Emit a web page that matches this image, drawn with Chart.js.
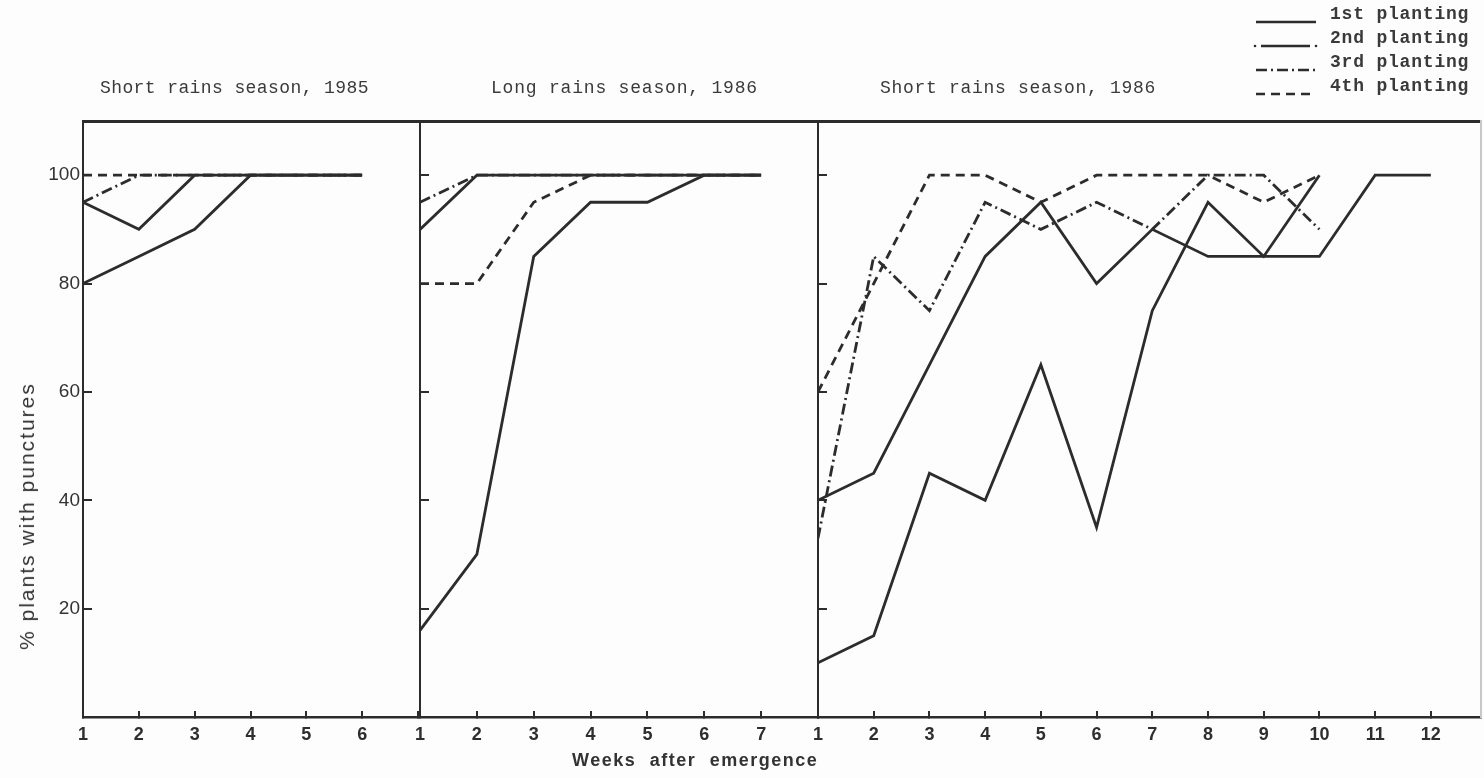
<!DOCTYPE html>
<html>
<head>
<meta charset="utf-8">
<script src="https://cdn.jsdelivr.net/npm/chart.js@4.4.1/dist/chart.umd.min.js"></script>
<style>
  html, body { margin: 0; padding: 0; background: #fff; }
  #wrap { position: relative; width: 1484px; height: 778px; overflow: hidden; background: #fdfdfd; }
  #wrap canvas { position: absolute; left: 0; top: 0; }
  .mono { position: absolute; font-family: "Liberation Mono", "DejaVu Sans Mono", monospace; font-size: 18px; line-height: 20px; color: #3a3a3a; white-space: nowrap; letter-spacing: 0.4px; }
  .legend { position: absolute; left: 1252px; top: 4px; }
  .legend .row { position: relative; height: 24px; }
  .legend svg { position: absolute; left: 0; top: 2px; }
  .legend span { position: absolute; left: 78px; top: 0; font-family: "Liberation Mono", monospace; font-size: 18px; font-weight: bold; color: #3a3a3a; letter-spacing: 0.8px; white-space: nowrap; }
  #ytitle { position: absolute; left: 27px; top: 516px; transform: translate(-50%, -50%) rotate(-90deg); font-family: "Liberation Sans", sans-serif; font-size: 21px; letter-spacing: 2px; color: #333; white-space: nowrap; }
  #xtitle { position: absolute; left: 572px; top: 750px; font-family: "Liberation Sans", sans-serif; font-size: 18px; font-weight: bold; letter-spacing: 1.5px; word-spacing: 7px; color: #333; white-space: nowrap; }
</style>
</head>
<body>
<div id="wrap">
  <canvas id="c1" width="1484" height="778"></canvas>
  <canvas id="c2" width="1484" height="778"></canvas>
  <canvas id="c3" width="1484" height="778"></canvas>

  <div class="mono" style="left:100px; top:78px;">Short rains season, 1985</div>
  <div class="mono" style="left:491px; top:78px; letter-spacing:0.8px;">Long rains season, 1986</div>
  <div class="mono" style="left:880px; top:78px; letter-spacing:0.7px;">Short rains season, 1986</div>

  <div class="legend" id="legend"></div>

  <div id="ytitle">% plants with punctures</div>
  <div id="xtitle">Weeks after emergence</div>
</div>

<script>
// weeks after emergence for each season
const weeks85 = [1, 2, 3, 4, 5, 6];
const weeksLong86 = [1, 2, 3, 4, 5, 6, 7];
const weeksShort86 = [1, 2, 3, 4, 5, 6, 7, 8, 9, 10, 11, 12];

const plantings = ["1st planting", "2nd planting", "3rd planting", "4th planting"];

// Short rains season, 1985
const short85First = [80, 85, 90, 100, 100, 100];
const short85Second = [95, 90, 100, 100, 100, 100];
const short85Third = [95, 100, 100, 100, 100, 100];
const short85Fourth = [100, 100, 100, 100, 100, 100];

// Long rains season, 1986
const long86First = [16, 30, 85, 95, 95, 100, 100];
const long86Second = [90, 100, 100, 100, 100, 100, 100];
const long86Third = [95, 100, 100, 100, 100, 100, 100];
const long86Fourth = [80, 80, 95, 100, 100, 100, 100];

// Short rains season, 1986
const short86First = [10, 15, 45, 40, 65, 35, 75, 95, 85, 100];
const short86Second = [40, 45, 65, 85, 95, 80, 90, 85, 85, 85, 100, 100];
const short86Third = [33, 85, 75, 95, 90, 95, 90, 100, 100, 90];
const short86Fourth = [60, 80, 100, 100, 95, 100, 100, 100, 95, 100];

const yTicks = [20, 40, 60, 80, 100];

const ink = "#2c2c2c";
const dashes = [[], [], [11, 4, 2, 4], [9, 6]];

function buildDatasets(weeks, seriesList) {
    return seriesList.map((vals, i) => ({
        label: plantings[i],
        data: vals.map((v, k) => ({ x: weeks[k], y: v })),
        borderColor: ink,
        borderWidth: 2.8,
        borderDash: dashes[i],
        pointRadius: 0,
        tension: 0,
        fill: false,
    }));
}

function makePanel(id, weeks, seriesList, xMax, padLeft, yWidth, padRight, showYLabels, rightEdge) {
    let ctx = document.getElementById(id).getContext("2d");
    let scales = {
        x: {
            type: "linear",
            position: "bottom",
            min: 1,
            max: xMax,
            afterBuildTicks: (s) => {
                s.ticks = [];
                for (let w = 1; w <= xMax; w++) s.ticks.push({ value: w });
            },
            ticks: {
                autoSkip: false,
                maxRotation: 0,
                padding: 13,
                color: "#2e2e2e",
                font: { family: "Liberation Sans", size: 18, weight: "bold" },
                callback: (v) => (v < xMax ? String(v) : ""),
            },
            grid: { drawOnChartArea: false, drawTicks: true, tickLength: -6, color: ink, lineWidth: 2 },
            border: { color: ink, width: 2.6 },
            afterFit: (s) => { s.height = 61; },
        },
        xTop: {
            type: "linear",
            position: "top",
            display: true,
            ticks: { display: false },
            grid: { display: false },
            border: { color: ink, width: 3 },
            afterFit: (s) => { s.height = 0; },
        },
        y: {
            min: 0,
            max: 110,
            afterBuildTicks: (s) => { s.ticks = yTicks.map((v) => ({ value: v })); },
            ticks: {
                display: showYLabels,
                padding: 12,
                color: "#333",
                font: { family: "Liberation Sans", size: 19 },
            },
            grid: { drawOnChartArea: false, drawTicks: true, tickLength: -9, color: ink, lineWidth: 2 },
            border: { color: ink, width: 2 },
            afterFit: (s) => { s.width = yWidth; },
        },
    };
    if (rightEdge) {
        scales.yRight = {
            position: "right",
            min: 0,
            max: 110,
            ticks: { display: false },
            grid: { display: false },
            border: { color: "#c8c8c8", width: 2 },
            afterFit: (s) => { s.width = 0; },
        };
    }
    return new Chart(ctx, {
        type: "line",
        data: { datasets: buildDatasets(weeks, seriesList) },
        options: {
            responsive: false,
            animation: false,
            devicePixelRatio: 1,
            layout: { padding: { left: padLeft, top: 121, right: padRight, bottom: 0 } },
            plugins: { legend: { display: false }, tooltip: { enabled: false }, title: { display: false } },
            scales: scales,
        },
    });
}

makePanel("c1", weeks85, [short85First, short85Second, short85Third, short85Fourth], 7, 0, 83, 1066, true, false);
makePanel("c2", weeksLong86, [long86First, long86Second, long86Third, long86Fourth], 8, 400, 20, 666, false, false);
makePanel("c3", weeksShort86, [short86First, short86Second, short86Third, short86Fourth], 12.9, 798, 20, 3, false, true);

// legend samples, same line styles as the datasets
let legend = document.getElementById("legend");
plantings.forEach((name, i) => {
    let row = document.createElement("div");
    row.className = "row";
    let dash = dashes[i].length ? dashes[i].join(" ") : "none";
    let extra = "";
    if (i === 1) {
        extra = '<circle cx="3" cy="16" r="1.3" fill="' + ink + '"/><circle cx="64" cy="16" r="1.3" fill="' + ink + '"/>';
    }
    let x1 = i === 1 ? 9 : 4;
    let x2 = i === 1 ? 58 : 64;
    row.innerHTML =
        '<svg width="70" height="20"><line x1="' + x1 + '" y1="16" x2="' + x2 + '" y2="16" stroke="' + ink +
        '" stroke-width="2.4" stroke-dasharray="' + dash + '"/>' + extra + "</svg><span>" + name + "</span>";
    legend.appendChild(row);
});
</script>
</body>
</html>
